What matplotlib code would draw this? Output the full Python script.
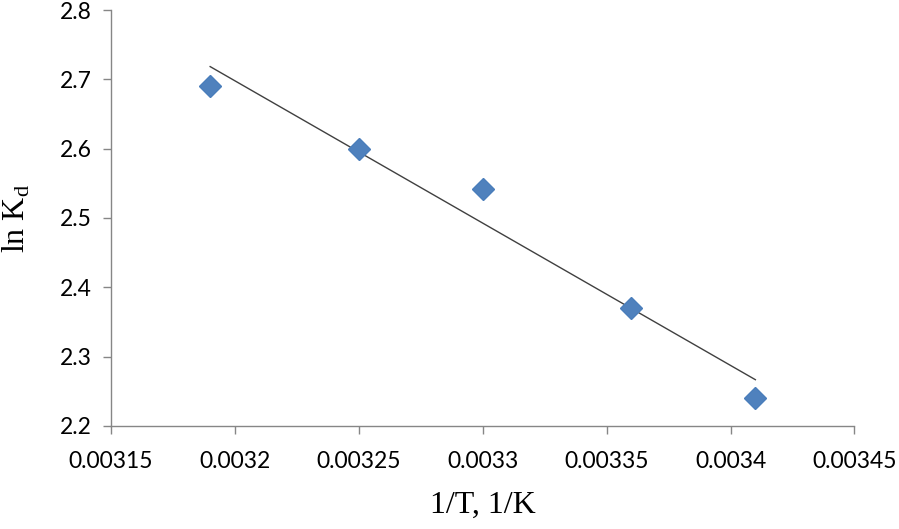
import numpy as np
import matplotlib
matplotlib.use("Agg")
import matplotlib.pyplot as plt

# data
inv_T = [0.00319, 0.00325, 0.00330, 0.00336, 0.00341]
ln_Kd = [2.69, 2.60, 2.542, 2.37, 2.24]

x_ticks = [0.00315, 0.0032, 0.00325, 0.0033, 0.00335, 0.0034, 0.00345]
x_tick_labels = ["0.00315", "0.0032", "0.00325", "0.0033", "0.00335", "0.0034", "0.00345"]
y_ticks = [2.2, 2.3, 2.4, 2.5, 2.6, 2.7, 2.8]


def main():
    fig = plt.figure(figsize=(8.99, 5.29), dpi=100)
    ax = fig.add_axes([0.1235, 0.195, 0.827, 0.786])

    # linear trendline
    k, b = np.polyfit(inv_T, ln_Kd, 1)
    xs = np.array([min(inv_T), max(inv_T)])
    ax.plot(xs, k * xs + b, color='#404040', lw=1.0, zorder=2)

    ax.plot(inv_T, ln_Kd, linestyle='none', marker='D', markersize=11,
            color='#4F81BD', markeredgecolor='#4A7EBB', zorder=3)

    ax.set_xlim(0.00315, 0.00345)
    ax.set_ylim(2.2, 2.8)
    ax.set_xticks(x_ticks)
    ax.set_xticklabels(x_tick_labels)
    ax.set_yticks(y_ticks)
    ax.set_yticklabels([f"{v:.1f}" for v in y_ticks])

    for s in ['top', 'right']:
        ax.spines[s].set_visible(False)
    for s in ['left', 'bottom']:
        ax.spines[s].set_color('#868686')
        ax.spines[s].set_linewidth(1.0)
    ax.tick_params(axis='both', direction='out', length=6, width=1.0,
                   color='#868686', labelsize=16.5)
    ax.tick_params(axis='x', pad=12)
    ax.tick_params(axis='y', pad=8)
    for lab in ax.get_xticklabels() + ax.get_yticklabels():
        lab.set_family('Lato')
        lab.set_color('black')

    ax.set_xlabel('1/T, 1/K', family='Liberation Serif', fontsize=23, labelpad=14)
    ax.set_ylabel(r'ln K$_\mathregular{d}$', family='Liberation Serif', fontsize=23, labelpad=20)

    fig.savefig('out.png', dpi=100)


if __name__ == '__main__':
    main()
